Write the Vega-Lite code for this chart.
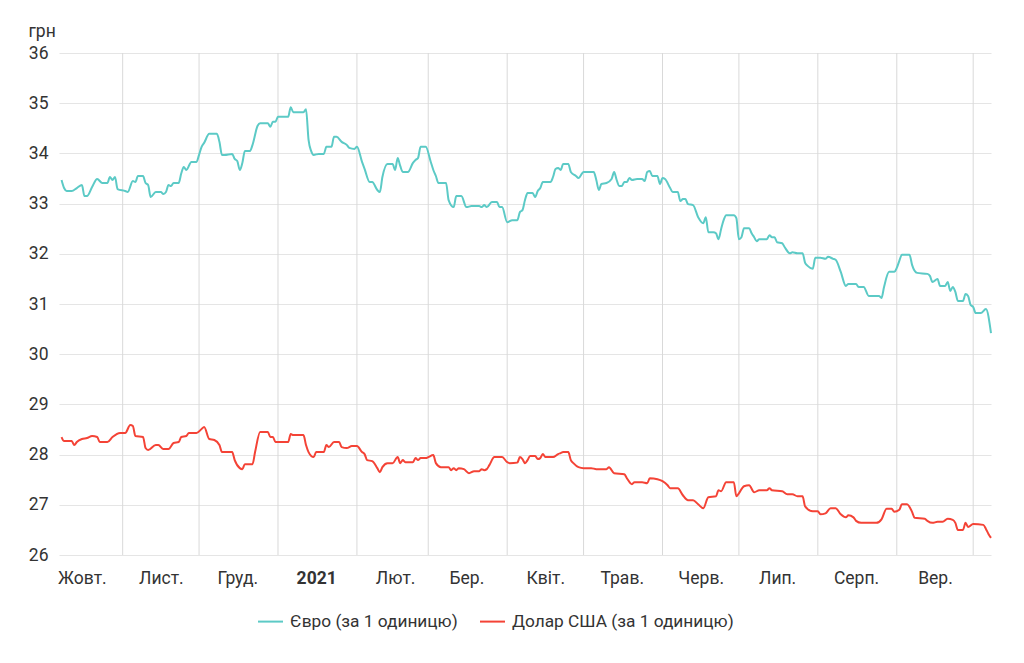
{
  "$schema": "https://vega.github.io/schema/vega-lite/v6.json",
  "width": 932,
  "height": 502,
  "autosize": "none",
  "padding": {"left": 59, "top": 53, "right": 33, "bottom": 108},
  "background": "white",
  "config": {
    "font": "Roboto",
    "view": {"stroke": null},
    "axis": {"labelColor": "#333333", "titleColor": "#333333", "labelFontSize": 17.5, "titleFontSize": 17.5}
  },
  "datasets": {
    "months": [
      {"date": "2020-11-01"}, {"date": "2020-12-01"}, {"date": "2021-01-01"}, {"date": "2021-02-01"},
      {"date": "2021-03-01"}, {"date": "2021-04-01"}, {"date": "2021-05-01"}, {"date": "2021-06-01"},
      {"date": "2021-07-01"}, {"date": "2021-08-01"}, {"date": "2021-09-01"}, {"date": "2021-10-01"}
    ],
    "eur": [
      {"date": "2020-10-08", "value": 33.47}, {"date": "2020-10-09", "value": 33.31}, {"date": "2020-10-10", "value": 33.25},
      {"date": "2020-10-12", "value": 33.25}, {"date": "2020-10-14", "value": 33.31}, {"date": "2020-10-16", "value": 33.37},
      {"date": "2020-10-17", "value": 33.15}, {"date": "2020-10-18", "value": 33.15}, {"date": "2020-10-20", "value": 33.33},
      {"date": "2020-10-22", "value": 33.49}, {"date": "2020-10-24", "value": 33.41}, {"date": "2020-10-26", "value": 33.41},
      {"date": "2020-10-27", "value": 33.53}, {"date": "2020-10-28", "value": 33.47}, {"date": "2020-10-29", "value": 33.53},
      {"date": "2020-10-30", "value": 33.29}, {"date": "2020-11-02", "value": 33.25}, {"date": "2020-11-03", "value": 33.23},
      {"date": "2020-11-05", "value": 33.45}, {"date": "2020-11-06", "value": 33.43}, {"date": "2020-11-07", "value": 33.55},
      {"date": "2020-11-09", "value": 33.55}, {"date": "2020-11-10", "value": 33.41}, {"date": "2020-11-11", "value": 33.37},
      {"date": "2020-11-12", "value": 33.13}, {"date": "2020-11-14", "value": 33.23}, {"date": "2020-11-16", "value": 33.23},
      {"date": "2020-11-17", "value": 33.19}, {"date": "2020-11-18", "value": 33.23}, {"date": "2020-11-19", "value": 33.37},
      {"date": "2020-11-20", "value": 33.35}, {"date": "2020-11-21", "value": 33.41}, {"date": "2020-11-23", "value": 33.41},
      {"date": "2020-11-24", "value": 33.6}, {"date": "2020-11-25", "value": 33.73}, {"date": "2020-11-26", "value": 33.67},
      {"date": "2020-11-28", "value": 33.83}, {"date": "2020-11-30", "value": 33.83}, {"date": "2020-12-01", "value": 33.97},
      {"date": "2020-12-02", "value": 34.13}, {"date": "2020-12-03", "value": 34.21}, {"date": "2020-12-05", "value": 34.39},
      {"date": "2020-12-08", "value": 34.39}, {"date": "2020-12-09", "value": 34.23}, {"date": "2020-12-10", "value": 33.97},
      {"date": "2020-12-11", "value": 33.97}, {"date": "2020-12-14", "value": 33.99}, {"date": "2020-12-15", "value": 33.89},
      {"date": "2020-12-16", "value": 33.85}, {"date": "2020-12-17", "value": 33.67}, {"date": "2020-12-18", "value": 33.81},
      {"date": "2020-12-19", "value": 34.05}, {"date": "2020-12-21", "value": 34.05}, {"date": "2020-12-22", "value": 34.17},
      {"date": "2020-12-24", "value": 34.55}, {"date": "2020-12-25", "value": 34.6}, {"date": "2020-12-28", "value": 34.6},
      {"date": "2020-12-29", "value": 34.53}, {"date": "2020-12-30", "value": 34.63}, {"date": "2020-12-31", "value": 34.63},
      {"date": "2021-01-01", "value": 34.73}, {"date": "2021-01-05", "value": 34.73}, {"date": "2021-01-06", "value": 34.92},
      {"date": "2021-01-07", "value": 34.82}, {"date": "2021-01-11", "value": 34.82}, {"date": "2021-01-12", "value": 34.88},
      {"date": "2021-01-13", "value": 34.27}, {"date": "2021-01-14", "value": 34.05}, {"date": "2021-01-15", "value": 33.97},
      {"date": "2021-01-17", "value": 33.99}, {"date": "2021-01-19", "value": 33.99}, {"date": "2021-01-20", "value": 34.13},
      {"date": "2021-01-22", "value": 34.13}, {"date": "2021-01-23", "value": 34.33}, {"date": "2021-01-24", "value": 34.33},
      {"date": "2021-01-26", "value": 34.23}, {"date": "2021-01-28", "value": 34.17}, {"date": "2021-01-29", "value": 34.11},
      {"date": "2021-01-31", "value": 34.09}, {"date": "2021-02-01", "value": 34.13}, {"date": "2021-02-03", "value": 33.83},
      {"date": "2021-02-04", "value": 33.69}, {"date": "2021-02-06", "value": 33.43}, {"date": "2021-02-07", "value": 33.43},
      {"date": "2021-02-09", "value": 33.27}, {"date": "2021-02-10", "value": 33.23}, {"date": "2021-02-11", "value": 33.53},
      {"date": "2021-02-13", "value": 33.79}, {"date": "2021-02-15", "value": 33.79}, {"date": "2021-02-16", "value": 33.67},
      {"date": "2021-02-17", "value": 33.91}, {"date": "2021-02-18", "value": 33.75}, {"date": "2021-02-19", "value": 33.63},
      {"date": "2021-02-21", "value": 33.63}, {"date": "2021-02-23", "value": 33.81}, {"date": "2021-02-24", "value": 33.87},
      {"date": "2021-02-25", "value": 33.91}, {"date": "2021-02-26", "value": 34.13}, {"date": "2021-02-28", "value": 34.13},
      {"date": "2021-03-02", "value": 33.83}, {"date": "2021-03-03", "value": 33.67}, {"date": "2021-03-04", "value": 33.55},
      {"date": "2021-03-05", "value": 33.41}, {"date": "2021-03-08", "value": 33.41}, {"date": "2021-03-09", "value": 33.07},
      {"date": "2021-03-11", "value": 32.93}, {"date": "2021-03-12", "value": 33.15}, {"date": "2021-03-14", "value": 33.15},
      {"date": "2021-03-16", "value": 32.93}, {"date": "2021-03-18", "value": 32.95}, {"date": "2021-03-21", "value": 32.95},
      {"date": "2021-03-22", "value": 32.93}, {"date": "2021-03-23", "value": 32.97}, {"date": "2021-03-24", "value": 32.93},
      {"date": "2021-03-26", "value": 33.03}, {"date": "2021-03-28", "value": 33.03}, {"date": "2021-03-29", "value": 32.93},
      {"date": "2021-03-30", "value": 32.93}, {"date": "2021-04-01", "value": 32.63}, {"date": "2021-04-03", "value": 32.67},
      {"date": "2021-04-05", "value": 32.67}, {"date": "2021-04-06", "value": 32.83}, {"date": "2021-04-07", "value": 32.87},
      {"date": "2021-04-08", "value": 33.07}, {"date": "2021-04-09", "value": 33.21}, {"date": "2021-04-11", "value": 33.21},
      {"date": "2021-04-12", "value": 33.13}, {"date": "2021-04-13", "value": 33.25}, {"date": "2021-04-14", "value": 33.31},
      {"date": "2021-04-15", "value": 33.43}, {"date": "2021-04-18", "value": 33.43}, {"date": "2021-04-19", "value": 33.53},
      {"date": "2021-04-20", "value": 33.69}, {"date": "2021-04-21", "value": 33.71}, {"date": "2021-04-22", "value": 33.67},
      {"date": "2021-04-23", "value": 33.79}, {"date": "2021-04-25", "value": 33.79}, {"date": "2021-04-26", "value": 33.63},
      {"date": "2021-04-28", "value": 33.55}, {"date": "2021-04-29", "value": 33.51}, {"date": "2021-05-01", "value": 33.63},
      {"date": "2021-05-05", "value": 33.63}, {"date": "2021-05-06", "value": 33.47}, {"date": "2021-05-07", "value": 33.27},
      {"date": "2021-05-08", "value": 33.39}, {"date": "2021-05-10", "value": 33.41}, {"date": "2021-05-12", "value": 33.49},
      {"date": "2021-05-13", "value": 33.63}, {"date": "2021-05-14", "value": 33.47}, {"date": "2021-05-15", "value": 33.35},
      {"date": "2021-05-16", "value": 33.35}, {"date": "2021-05-17", "value": 33.43}, {"date": "2021-05-18", "value": 33.43},
      {"date": "2021-05-19", "value": 33.51}, {"date": "2021-05-20", "value": 33.47}, {"date": "2021-05-22", "value": 33.49},
      {"date": "2021-05-24", "value": 33.49}, {"date": "2021-05-25", "value": 33.45}, {"date": "2021-05-26", "value": 33.63},
      {"date": "2021-05-27", "value": 33.65}, {"date": "2021-05-28", "value": 33.55}, {"date": "2021-05-30", "value": 33.55},
      {"date": "2021-05-31", "value": 33.39}, {"date": "2021-06-01", "value": 33.51}, {"date": "2021-06-02", "value": 33.49},
      {"date": "2021-06-04", "value": 33.31}, {"date": "2021-06-05", "value": 33.23}, {"date": "2021-06-07", "value": 33.23},
      {"date": "2021-06-08", "value": 33.05}, {"date": "2021-06-09", "value": 33.09}, {"date": "2021-06-10", "value": 33.09},
      {"date": "2021-06-11", "value": 32.99}, {"date": "2021-06-13", "value": 32.97}, {"date": "2021-06-15", "value": 32.73},
      {"date": "2021-06-17", "value": 32.61}, {"date": "2021-06-18", "value": 32.73}, {"date": "2021-06-19", "value": 32.43},
      {"date": "2021-06-21", "value": 32.43}, {"date": "2021-06-22", "value": 32.41}, {"date": "2021-06-23", "value": 32.29},
      {"date": "2021-06-24", "value": 32.49}, {"date": "2021-06-25", "value": 32.67}, {"date": "2021-06-26", "value": 32.77},
      {"date": "2021-06-29", "value": 32.77}, {"date": "2021-06-30", "value": 32.71}, {"date": "2021-07-01", "value": 32.29},
      {"date": "2021-07-02", "value": 32.33}, {"date": "2021-07-03", "value": 32.51}, {"date": "2021-07-05", "value": 32.51},
      {"date": "2021-07-06", "value": 32.41}, {"date": "2021-07-07", "value": 32.33}, {"date": "2021-07-08", "value": 32.25},
      {"date": "2021-07-09", "value": 32.29}, {"date": "2021-07-12", "value": 32.29}, {"date": "2021-07-13", "value": 32.37},
      {"date": "2021-07-14", "value": 32.33}, {"date": "2021-07-15", "value": 32.33}, {"date": "2021-07-16", "value": 32.23},
      {"date": "2021-07-18", "value": 32.21}, {"date": "2021-07-19", "value": 32.13}, {"date": "2021-07-21", "value": 32.01},
      {"date": "2021-07-22", "value": 32.03}, {"date": "2021-07-24", "value": 32.01}, {"date": "2021-07-26", "value": 32.01},
      {"date": "2021-07-27", "value": 31.82}, {"date": "2021-07-28", "value": 31.76}, {"date": "2021-07-30", "value": 31.7},
      {"date": "2021-07-31", "value": 31.92}, {"date": "2021-08-02", "value": 31.92}, {"date": "2021-08-04", "value": 31.9},
      {"date": "2021-08-05", "value": 31.94}, {"date": "2021-08-07", "value": 31.9}, {"date": "2021-08-08", "value": 31.88},
      {"date": "2021-08-10", "value": 31.64}, {"date": "2021-08-12", "value": 31.36}, {"date": "2021-08-13", "value": 31.4},
      {"date": "2021-08-16", "value": 31.4}, {"date": "2021-08-17", "value": 31.34}, {"date": "2021-08-19", "value": 31.34},
      {"date": "2021-08-21", "value": 31.16}, {"date": "2021-08-25", "value": 31.16}, {"date": "2021-08-26", "value": 31.12},
      {"date": "2021-08-27", "value": 31.34}, {"date": "2021-08-29", "value": 31.64}, {"date": "2021-08-31", "value": 31.64},
      {"date": "2021-09-01", "value": 31.72}, {"date": "2021-09-02", "value": 31.86}, {"date": "2021-09-03", "value": 31.98},
      {"date": "2021-09-06", "value": 31.98}, {"date": "2021-09-07", "value": 31.78}, {"date": "2021-09-09", "value": 31.62},
      {"date": "2021-09-13", "value": 31.6}, {"date": "2021-09-14", "value": 31.56}, {"date": "2021-09-15", "value": 31.44},
      {"date": "2021-09-17", "value": 31.5}, {"date": "2021-09-18", "value": 31.36}, {"date": "2021-09-20", "value": 31.36},
      {"date": "2021-09-21", "value": 31.44}, {"date": "2021-09-22", "value": 31.26}, {"date": "2021-09-23", "value": 31.34},
      {"date": "2021-09-24", "value": 31.24}, {"date": "2021-09-25", "value": 31.06}, {"date": "2021-09-27", "value": 31.06},
      {"date": "2021-09-28", "value": 31.2}, {"date": "2021-09-29", "value": 31.16}, {"date": "2021-09-30", "value": 30.98},
      {"date": "2021-10-01", "value": 30.94}, {"date": "2021-10-02", "value": 30.82}, {"date": "2021-10-04", "value": 30.82},
      {"date": "2021-10-06", "value": 30.9}, {"date": "2021-10-08", "value": 30.42}
    ],
    "usd": [
      {"date": "2020-10-08", "value": 28.35}, {"date": "2020-10-09", "value": 28.27}, {"date": "2020-10-12", "value": 28.27},
      {"date": "2020-10-13", "value": 28.19}, {"date": "2020-10-14", "value": 28.25}, {"date": "2020-10-16", "value": 28.31},
      {"date": "2020-10-18", "value": 28.33}, {"date": "2020-10-20", "value": 28.37}, {"date": "2020-10-22", "value": 28.35},
      {"date": "2020-10-23", "value": 28.25}, {"date": "2020-10-26", "value": 28.25}, {"date": "2020-10-28", "value": 28.35},
      {"date": "2020-10-31", "value": 28.43}, {"date": "2020-11-02", "value": 28.43}, {"date": "2020-11-04", "value": 28.59},
      {"date": "2020-11-05", "value": 28.57}, {"date": "2020-11-06", "value": 28.37}, {"date": "2020-11-09", "value": 28.35},
      {"date": "2020-11-10", "value": 28.13}, {"date": "2020-11-11", "value": 28.09}, {"date": "2020-11-14", "value": 28.19},
      {"date": "2020-11-15", "value": 28.19}, {"date": "2020-11-17", "value": 28.11}, {"date": "2020-11-19", "value": 28.11},
      {"date": "2020-11-21", "value": 28.23}, {"date": "2020-11-23", "value": 28.25}, {"date": "2020-11-24", "value": 28.35},
      {"date": "2020-11-26", "value": 28.37}, {"date": "2020-11-27", "value": 28.43}, {"date": "2020-11-30", "value": 28.43},
      {"date": "2020-12-02", "value": 28.51}, {"date": "2020-12-03", "value": 28.55}, {"date": "2020-12-05", "value": 28.31},
      {"date": "2020-12-07", "value": 28.29}, {"date": "2020-12-09", "value": 28.19}, {"date": "2020-12-10", "value": 28.05},
      {"date": "2020-12-12", "value": 28.05}, {"date": "2020-12-14", "value": 28.05}, {"date": "2020-12-15", "value": 27.89},
      {"date": "2020-12-17", "value": 27.73}, {"date": "2020-12-18", "value": 27.71}, {"date": "2020-12-19", "value": 27.81},
      {"date": "2020-12-22", "value": 27.81}, {"date": "2020-12-23", "value": 28.05}, {"date": "2020-12-25", "value": 28.45},
      {"date": "2020-12-28", "value": 28.45}, {"date": "2020-12-29", "value": 28.35}, {"date": "2020-12-30", "value": 28.35},
      {"date": "2020-12-31", "value": 28.25}, {"date": "2021-01-05", "value": 28.25}, {"date": "2021-01-06", "value": 28.41},
      {"date": "2021-01-07", "value": 28.39}, {"date": "2021-01-11", "value": 28.39}, {"date": "2021-01-12", "value": 28.19},
      {"date": "2021-01-13", "value": 28.05}, {"date": "2021-01-15", "value": 27.95}, {"date": "2021-01-16", "value": 28.05},
      {"date": "2021-01-19", "value": 28.05}, {"date": "2021-01-20", "value": 28.19}, {"date": "2021-01-21", "value": 28.15},
      {"date": "2021-01-23", "value": 28.25}, {"date": "2021-01-25", "value": 28.25}, {"date": "2021-01-26", "value": 28.15},
      {"date": "2021-01-28", "value": 28.13}, {"date": "2021-01-30", "value": 28.17}, {"date": "2021-02-01", "value": 28.17},
      {"date": "2021-02-03", "value": 28.05}, {"date": "2021-02-04", "value": 28.01}, {"date": "2021-02-05", "value": 27.89},
      {"date": "2021-02-07", "value": 27.87}, {"date": "2021-02-09", "value": 27.73}, {"date": "2021-02-10", "value": 27.65},
      {"date": "2021-02-11", "value": 27.75}, {"date": "2021-02-13", "value": 27.83}, {"date": "2021-02-15", "value": 27.83},
      {"date": "2021-02-17", "value": 27.95}, {"date": "2021-02-18", "value": 27.83}, {"date": "2021-02-19", "value": 27.89},
      {"date": "2021-02-20", "value": 27.85}, {"date": "2021-02-23", "value": 27.85}, {"date": "2021-02-24", "value": 27.93},
      {"date": "2021-02-25", "value": 27.89}, {"date": "2021-02-26", "value": 27.93}, {"date": "2021-02-28", "value": 27.93},
      {"date": "2021-03-01", "value": 27.95}, {"date": "2021-03-03", "value": 27.99}, {"date": "2021-03-04", "value": 27.83},
      {"date": "2021-03-06", "value": 27.75}, {"date": "2021-03-09", "value": 27.75}, {"date": "2021-03-10", "value": 27.69},
      {"date": "2021-03-11", "value": 27.73}, {"date": "2021-03-12", "value": 27.69}, {"date": "2021-03-13", "value": 27.73},
      {"date": "2021-03-15", "value": 27.71}, {"date": "2021-03-17", "value": 27.63}, {"date": "2021-03-19", "value": 27.67},
      {"date": "2021-03-21", "value": 27.67}, {"date": "2021-03-22", "value": 27.71}, {"date": "2021-03-23", "value": 27.69},
      {"date": "2021-03-24", "value": 27.71}, {"date": "2021-03-25", "value": 27.79}, {"date": "2021-03-27", "value": 27.95},
      {"date": "2021-03-30", "value": 27.95}, {"date": "2021-04-01", "value": 27.85}, {"date": "2021-04-02", "value": 27.83},
      {"date": "2021-04-05", "value": 27.84}, {"date": "2021-04-06", "value": 27.95}, {"date": "2021-04-07", "value": 27.91},
      {"date": "2021-04-08", "value": 27.83}, {"date": "2021-04-09", "value": 27.89}, {"date": "2021-04-10", "value": 27.97},
      {"date": "2021-04-12", "value": 27.97}, {"date": "2021-04-13", "value": 27.91}, {"date": "2021-04-14", "value": 27.93},
      {"date": "2021-04-15", "value": 28.01}, {"date": "2021-04-16", "value": 27.95}, {"date": "2021-04-19", "value": 27.95},
      {"date": "2021-04-21", "value": 28.01}, {"date": "2021-04-22", "value": 28.03}, {"date": "2021-04-23", "value": 28.05},
      {"date": "2021-04-25", "value": 28.05}, {"date": "2021-04-26", "value": 27.89}, {"date": "2021-04-27", "value": 27.83},
      {"date": "2021-04-29", "value": 27.75}, {"date": "2021-05-01", "value": 27.73}, {"date": "2021-05-04", "value": 27.73},
      {"date": "2021-05-06", "value": 27.71}, {"date": "2021-05-10", "value": 27.71}, {"date": "2021-05-11", "value": 27.75},
      {"date": "2021-05-13", "value": 27.63}, {"date": "2021-05-17", "value": 27.61}, {"date": "2021-05-18", "value": 27.53},
      {"date": "2021-05-20", "value": 27.41}, {"date": "2021-05-21", "value": 27.45}, {"date": "2021-05-24", "value": 27.45},
      {"date": "2021-05-26", "value": 27.43}, {"date": "2021-05-27", "value": 27.53}, {"date": "2021-05-30", "value": 27.51},
      {"date": "2021-06-01", "value": 27.47}, {"date": "2021-06-03", "value": 27.39}, {"date": "2021-06-04", "value": 27.33},
      {"date": "2021-06-07", "value": 27.33}, {"date": "2021-06-09", "value": 27.19}, {"date": "2021-06-11", "value": 27.09},
      {"date": "2021-06-13", "value": 27.09}, {"date": "2021-06-15", "value": 27.01}, {"date": "2021-06-17", "value": 26.93},
      {"date": "2021-06-19", "value": 27.15}, {"date": "2021-06-22", "value": 27.17}, {"date": "2021-06-23", "value": 27.29},
      {"date": "2021-06-24", "value": 27.27}, {"date": "2021-06-26", "value": 27.45}, {"date": "2021-06-29", "value": 27.45},
      {"date": "2021-06-30", "value": 27.17}, {"date": "2021-07-01", "value": 27.23}, {"date": "2021-07-03", "value": 27.37},
      {"date": "2021-07-05", "value": 27.39}, {"date": "2021-07-07", "value": 27.25}, {"date": "2021-07-09", "value": 27.29},
      {"date": "2021-07-12", "value": 27.29}, {"date": "2021-07-13", "value": 27.33}, {"date": "2021-07-14", "value": 27.29},
      {"date": "2021-07-18", "value": 27.27}, {"date": "2021-07-20", "value": 27.21}, {"date": "2021-07-22", "value": 27.21},
      {"date": "2021-07-24", "value": 27.17}, {"date": "2021-07-26", "value": 27.17}, {"date": "2021-07-27", "value": 26.97},
      {"date": "2021-07-30", "value": 26.87}, {"date": "2021-08-01", "value": 26.87}, {"date": "2021-08-02", "value": 26.81},
      {"date": "2021-08-04", "value": 26.83}, {"date": "2021-08-06", "value": 26.93}, {"date": "2021-08-08", "value": 26.93},
      {"date": "2021-08-10", "value": 26.81}, {"date": "2021-08-12", "value": 26.75}, {"date": "2021-08-13", "value": 26.79},
      {"date": "2021-08-15", "value": 26.75}, {"date": "2021-08-16", "value": 26.68}, {"date": "2021-08-18", "value": 26.64},
      {"date": "2021-08-24", "value": 26.64}, {"date": "2021-08-26", "value": 26.71}, {"date": "2021-08-28", "value": 26.92},
      {"date": "2021-08-30", "value": 26.92}, {"date": "2021-08-31", "value": 26.86}, {"date": "2021-09-02", "value": 26.9},
      {"date": "2021-09-03", "value": 27.01}, {"date": "2021-09-05", "value": 27.01}, {"date": "2021-09-07", "value": 26.86},
      {"date": "2021-09-08", "value": 26.74}, {"date": "2021-09-12", "value": 26.72}, {"date": "2021-09-13", "value": 26.68},
      {"date": "2021-09-15", "value": 26.64}, {"date": "2021-09-17", "value": 26.66}, {"date": "2021-09-19", "value": 26.66},
      {"date": "2021-09-21", "value": 26.72}, {"date": "2021-09-23", "value": 26.7}, {"date": "2021-09-24", "value": 26.64},
      {"date": "2021-09-25", "value": 26.5}, {"date": "2021-09-27", "value": 26.5}, {"date": "2021-09-28", "value": 26.64},
      {"date": "2021-09-29", "value": 26.56}, {"date": "2021-10-01", "value": 26.62}, {"date": "2021-10-05", "value": 26.6},
      {"date": "2021-10-06", "value": 26.52}, {"date": "2021-10-07", "value": 26.42}, {"date": "2021-10-08", "value": 26.34}
    ]
  },
  "layer": [
    {
      "data": {"name": "months"},
      "mark": {"type": "rule", "color": "#d9d9d9", "strokeWidth": 1},
      "encoding": {
        "x": {"field": "date", "type": "temporal"}
      }
    },
    {
      "data": {"name": "eur"},
      "mark": {"type": "line", "strokeWidth": 2, "interpolate": "monotone"},
      "encoding": {
        "x": {"field": "date", "type": "temporal"},
        "y": {"field": "value", "type": "quantitative"},
        "color": {"datum": "Євро (за 1 одиницю)"}
      }
    },
    {
      "data": {"name": "usd"},
      "mark": {"type": "line", "strokeWidth": 2, "interpolate": "monotone"},
      "encoding": {
        "x": {
          "field": "date",
          "type": "temporal",
          "title": null,
          "scale": {
            "type": "utc",
            "domain": [
              {"year": 2020, "month": 10, "date": 7, "utc": true},
              {"year": 2021, "month": 10, "date": 8, "utc": true}
            ]
          },
          "axis": {
            "values": [
              {"year": 2020, "month": 10, "date": 16, "utc": true},
              {"year": 2020, "month": 11, "date": 16, "utc": true},
              {"year": 2020, "month": 12, "date": 16, "utc": true},
              {"year": 2021, "month": 1, "date": 16, "utc": true},
              {"year": 2021, "month": 2, "date": 16, "utc": true},
              {"year": 2021, "month": 3, "date": 16, "utc": true},
              {"year": 2021, "month": 4, "date": 16, "utc": true},
              {"year": 2021, "month": 5, "date": 16, "utc": true},
              {"year": 2021, "month": 6, "date": 16, "utc": true},
              {"year": 2021, "month": 7, "date": 16, "utc": true},
              {"year": 2021, "month": 8, "date": 16, "utc": true},
              {"year": 2021, "month": 9, "date": 16, "utc": true}
            ],
            "labelExpr": "utcmonth(datum.value) == 0 ? '2021' : ['Січ.', 'Лют.', 'Бер.', 'Квіт.', 'Трав.', 'Черв.', 'Лип.', 'Серп.', 'Вер.', 'Жовт.', 'Лист.', 'Груд.'][utcmonth(datum.value)]",
            "labelFontWeight": {"condition": {"test": "utcmonth(datum.value) == 0", "value": "bold"}, "value": "normal"},
            "grid": false,
            "ticks": false,
            "domain": false,
            "labelPadding": 14,
            "labelOverlap": false,
            "labelFlush": false,
            "labelBound": false
          }
        },
        "y": {
          "field": "value",
          "type": "quantitative",
          "title": "грн",
          "scale": {"domain": [26, 36], "nice": false, "zero": false},
          "axis": {
            "values": [26, 27, 28, 29, 30, 31, 32, 33, 34, 35, 36],
            "grid": true,
            "gridColor": "#e5e5e5",
            "ticks": false,
            "domain": false,
            "labelPadding": 11,
            "titleAngle": 0,
            "titleAlign": "left",
            "titleBaseline": "alphabetic",
            "titleFontWeight": "normal",
            "titleX": -31,
            "titleY": -17
          }
        },
        "color": {
          "datum": "Долар США (за 1 одиницю)",
          "scale": {
            "domain": ["Євро (за 1 одиницю)", "Долар США (за 1 одиницю)"],
            "range": ["#5ccac6", "#f44336"]
          },
          "legend": {
            "title": null,
            "orient": "none",
            "direction": "horizontal",
            "legendX": 198,
            "legendY": 555,
            "symbolType": "stroke",
            "symbolSize": 625,
            "symbolStrokeWidth": 2,
            "labelFontSize": 17.3,
            "labelColor": "#333333",
            "labelLimit": 0,
            "labelOffset": 6,
            "columnPadding": 18
          }
        }
      }
    }
  ]
}
